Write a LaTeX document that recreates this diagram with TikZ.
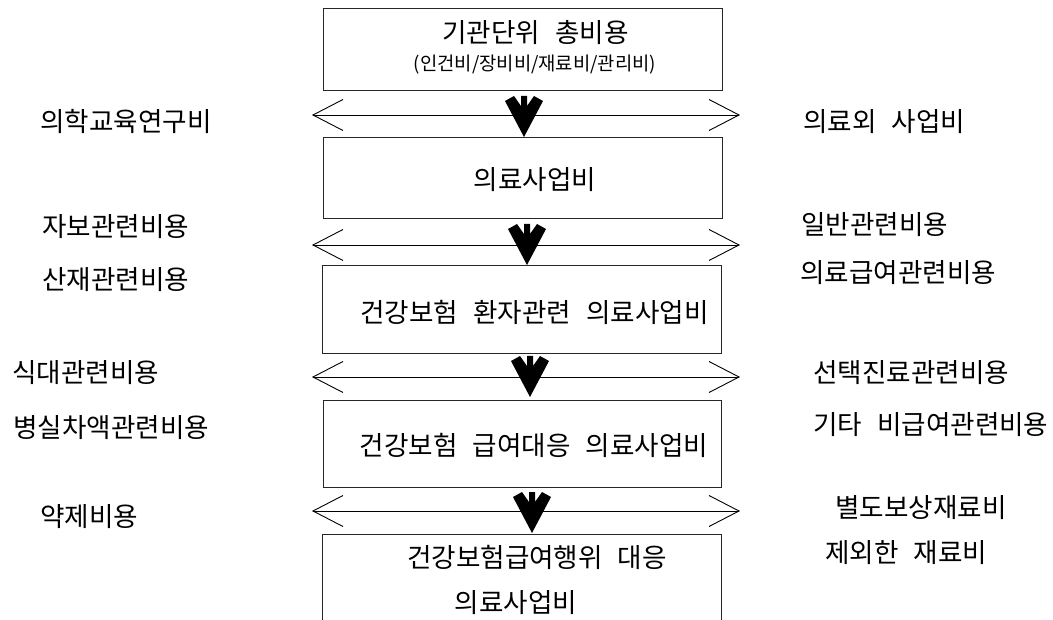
\documentclass[tikz,border=0pt]{standalone}
\usepackage{fontspec}
\setmainfont{Noto Sans CJK KR}
\usetikzlibrary{arrows.meta}
\newcommand\kgap{\hspace{15pt}}
\tikzset{
  box/.style={draw=black!85, line width=1pt, inner sep=0pt},
  lbl/.style={inner sep=0pt, anchor=west, font=\fontsize{26.6pt}{30pt}\selectfont},
  btxt/.style={inner sep=0pt, anchor=center, font=\fontsize{26.6pt}{30pt}\selectfont},
  stxt/.style={inner sep=0pt, anchor=center, font=\fontsize{18.8pt}{22pt}\selectfont},
  harrow/.style={line width=0.9pt, black, >={Straight Barb[length=30pt,width=31pt]}, <->},
  darrow/.pic={\fill[black] (-19,5) -- (-10,0) -- (-3,10) -- (-3,0) -- (3,0) -- (3,10) -- (10,0) -- (19,5) -- (0,41) -- cycle;}
}
\begin{document}
\begin{tikzpicture}[x=1pt,y=-1pt]
\useasboundingbox (0,0) rectangle (1053,620);
% boxes
\node[box, minimum width=399pt, minimum height=82pt] (b1) at (522.5,50) {};
\node[box, minimum width=399pt, minimum height=81pt] (b2) at (522.5,178.5) {};
\node[box, minimum width=399pt, minimum height=88pt] (b3) at (521.5,310) {};
\node[box, minimum width=398pt, minimum height=86pt] (b4) at (522,444) {};
\node[inner sep=0pt, minimum width=398pt, minimum height=100pt] (b5) at (522,585) {};
\draw[black!85, line width=1pt] (b5.south west) -- (b5.north west) -- (b5.north east) -- (b5.south east);
% box texts
\node[btxt] (t1) at (535.5,33) {기관단위\kgap 총비용};
\node[stxt] (t1b) at (535,65) {(인건비/장비비/재료비/관리비)};
\node[btxt] (t2) at (535,180) {의료사업비};
\node[btxt] (t3) at (534.5,312) {건강보험\kgap 환자관련\kgap 의료사업비};
\node[btxt] (t4) at (534,445) {건강보험\kgap 급여대응\kgap 의료사업비};
\node[btxt] (t5) at (537,557) {건강보험급여행위\kgap 대응};
\node[btxt] (t5b) at (516,603) {의료사업비};
% horizontal arrows
\coordinate (L1) at (312,115); \coordinate (R1) at (740,115);
\coordinate (L2) at (312,245); \coordinate (R2) at (740,245);
\coordinate (L3) at (312,377); \coordinate (R3) at (740,377);
\coordinate (L4) at (312,511); \coordinate (R4) at (740,511);
\draw[harrow] (L1) -- (R1);
\draw[harrow] (L2) -- (R2);
\draw[harrow] (L3) -- (R3);
\draw[harrow] (L4) -- (R4);
% down arrows
\pic at (524,96) {darrow};
\pic at (527,224) {darrow};
\pic at (530,356) {darrow};
\pic at (532,492) {darrow};
% left labels
\node[lbl] (l1) at (40,122) {의학교육연구비};
\node[lbl] (l2) at (42,227) {자보관련비용};
\node[lbl] (l3) at (42,280) {산재관련비용};
\node[lbl] (l4) at (12,373) {식대관련비용};
\node[lbl] (l5) at (13,428) {병실차액관련비용};
\node[lbl] (l6) at (40,517) {약제비용};
% right labels
\node[lbl] (r1) at (803,122) {의료외\kgap 사업비};
\node[lbl] (r2) at (801,225) {일반관련비용};
\node[lbl] (r3) at (800,273) {의료급여관련비용};
\node[lbl] (r4) at (813,373) {선택진료관련비용};
\node[lbl] (r5) at (813,425) {기타\kgap 비급여관련비용};
\node[lbl] (r6) at (835,508) {별도보상재료비};
\node[lbl] (r7) at (825,553) {제외한\kgap 재료비};
\end{tikzpicture}
\end{document}
